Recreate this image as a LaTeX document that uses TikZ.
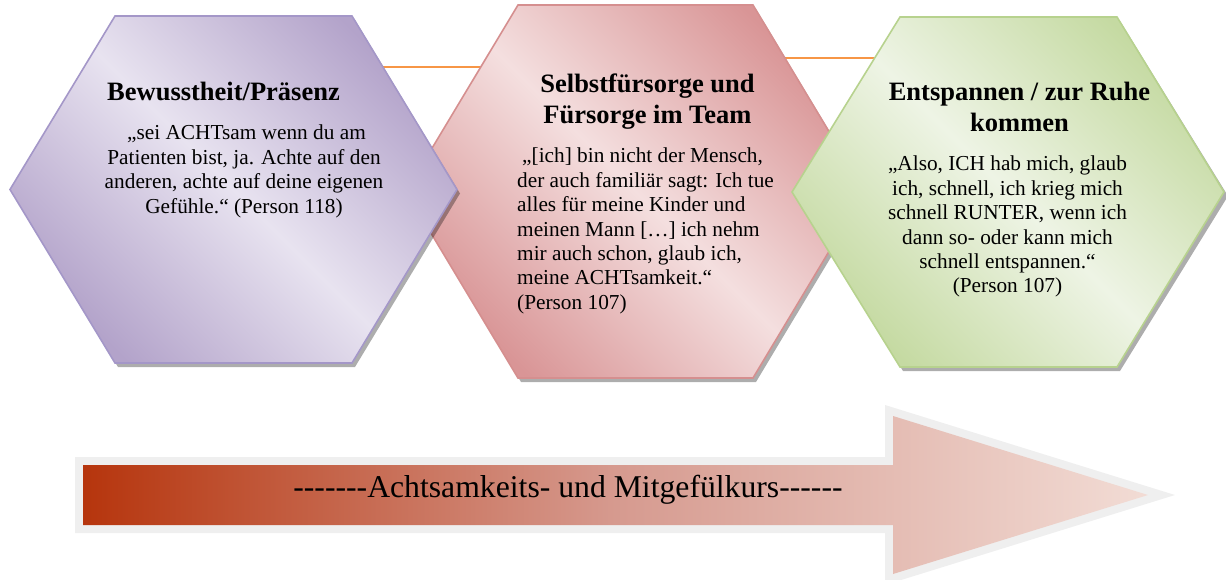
\documentclass[tikz,border=0pt]{standalone}
\usepackage{fontspec}
\setmainfont{Liberation Serif}
\begin{document}
\begin{tikzpicture}[x=1pt,y=-1pt,
  conn/.style={draw=orange1,line width=2.2pt},
  hexshadow/.style={fill=black,opacity=0.32},
  hexpurple/.style={draw=purpleB,line width=1.6pt,top color=purpleD,bottom color=purpleD,middle color=purpleL,shading angle=-45},
  hexpink/.style={draw=pinkB,line width=1.6pt,top color=pinkD,bottom color=pinkD,middle color=pinkL,shading angle=-45},
  hexgreen/.style={draw=greenB,line width=1.6pt,top color=greenD,bottom color=greenD,middle color=greenL,shading angle=-45},
  titletext/.style={font=\fontsize{26.5}{31}\selectfont\bfseries,inner sep=0pt,align=center},
  bodytext/.style={font=\fontsize{21.3}{24.4}\selectfont,inner sep=0pt},
  arrowtext/.style={font=\fontsize{31.7}{36}\selectfont,inner sep=0pt}
]
\definecolor{orange1}{HTML}{F79646}
\definecolor{purpleB}{HTML}{A497C8}
\definecolor{purpleD}{HTML}{B3A3CA}
\definecolor{purpleL}{HTML}{E8E3F0}
\definecolor{pinkB}{HTML}{D58F8F}
\definecolor{pinkD}{HTML}{D99596}
\definecolor{pinkL}{HTML}{F4DFDF}
\definecolor{greenB}{HTML}{B7D28E}
\definecolor{greenD}{HTML}{C5DAA2}
\definecolor{greenL}{HTML}{EEF4E5}
\definecolor{arrowborder}{HTML}{EFEFEF}
\definecolor{arrowL}{HTML}{B6350D}
\definecolor{arrowM}{HTML}{D69A8F}
\definecolor{arrowR}{HTML}{F2DCD5}

\useasboundingbox (0,0) rectangle (1226,579);

% centres of the three hexagons
\coordinate (h1) at (233.5,189.5);
\coordinate (h2) at (635.5,191.5);
\coordinate (h3) at (1008.5,192);

% connectors (behind the hexagons)
\draw[conn] ([yshift=122.5pt]h1) -- ([yshift=122.5pt]h1 -| h2);
\draw[conn] ([yshift=133.5pt]h2) -- ([yshift=133.5pt]h2 -| h3);

% pink hexagon
\fill[hexshadow] (521,9) -- (756,9) -- (868,195.5) -- (756,382) -- (521,382) -- (409,195.5) -- cycle;
\path[hexpink] (518,5) -- (753,5) -- (865,191.5) -- (753,378) -- (518,378) -- (406,191.5) -- cycle;

% purple hexagon
\fill[hexshadow] (118,20) -- (355,20) -- (460,193.5) -- (355,367) -- (118,367) -- (13,193.5) -- cycle;
\path[hexpurple] (115,16) -- (352,16) -- (457,189.5) -- (352,363) -- (115,363) -- (10,189.5) -- cycle;

% green hexagon
\fill[hexshadow] (903,21) -- (1120,21) -- (1228,196) -- (1120,371) -- (903,371) -- (795,196) -- cycle;
\path[hexgreen] (900,17) -- (1117,17) -- (1224,192) -- (1117,367) -- (900,367) -- (792,192) -- cycle;

% texts hexagon 1
\node[titletext,anchor=base west] (t1) at (107,100) {Bewusstheit/Präsenz};
\node[bodytext,anchor=north,align=center] (b1) at (244,125) {\hspace*{5pt}„sei ACHTsam wenn du am\\Patienten bist, ja. Achte auf den\\anderen, achte auf deine eigenen\\Gefühle.“ (Person 118)};

% texts hexagon 2
\node[titletext,anchor=north] (t2) at (647.5,74) {Selbstfürsorge und\\Fürsorge im Team};
\node[bodytext,anchor=north west,align=left] (b2) at (517,148) {\hspace*{5pt}„[ich] bin nicht der Mensch,\\der auch familiär sagt: Ich tue\\alles für meine Kinder und\\meinen Mann […] ich nehm\\mir auch schon, glaub ich,\\meine ACHTsamkeit.“\\(Person 107)};

% texts hexagon 3
\node[titletext,anchor=north] (t3) at (1019.5,82) {Entspannen / zur Ruhe\\kommen};
\node[bodytext,anchor=north,align=center] (b3) at (1007.5,156) {„Also, ICH hab mich, glaub\\ich, schnell, ich krieg mich\\schnell RUNTER, wenn ich\\dann so- oder kann mich\\schnell entspannen.“\\(Person 107)};

% big arrow
\fill[arrowborder] (75,457) -- (885,457) -- (885,405) -- (1175,495) -- (885,585) -- (885,533) -- (75,533) -- cycle;
\path[left color=arrowL,right color=arrowR,middle color=arrowM] (83,465) -- (893,465) -- (893,416) -- (1148,495) -- (893,574) -- (893,525) -- (83,525) -- cycle;
\node[arrowtext,anchor=base] (at) at (568,497) {-{}-{}-{}-{}-{}-{}-Achtsamkeits- und Mitgefülkurs-{}-{}-{}-{}-{}-};
\end{tikzpicture}
\end{document}
